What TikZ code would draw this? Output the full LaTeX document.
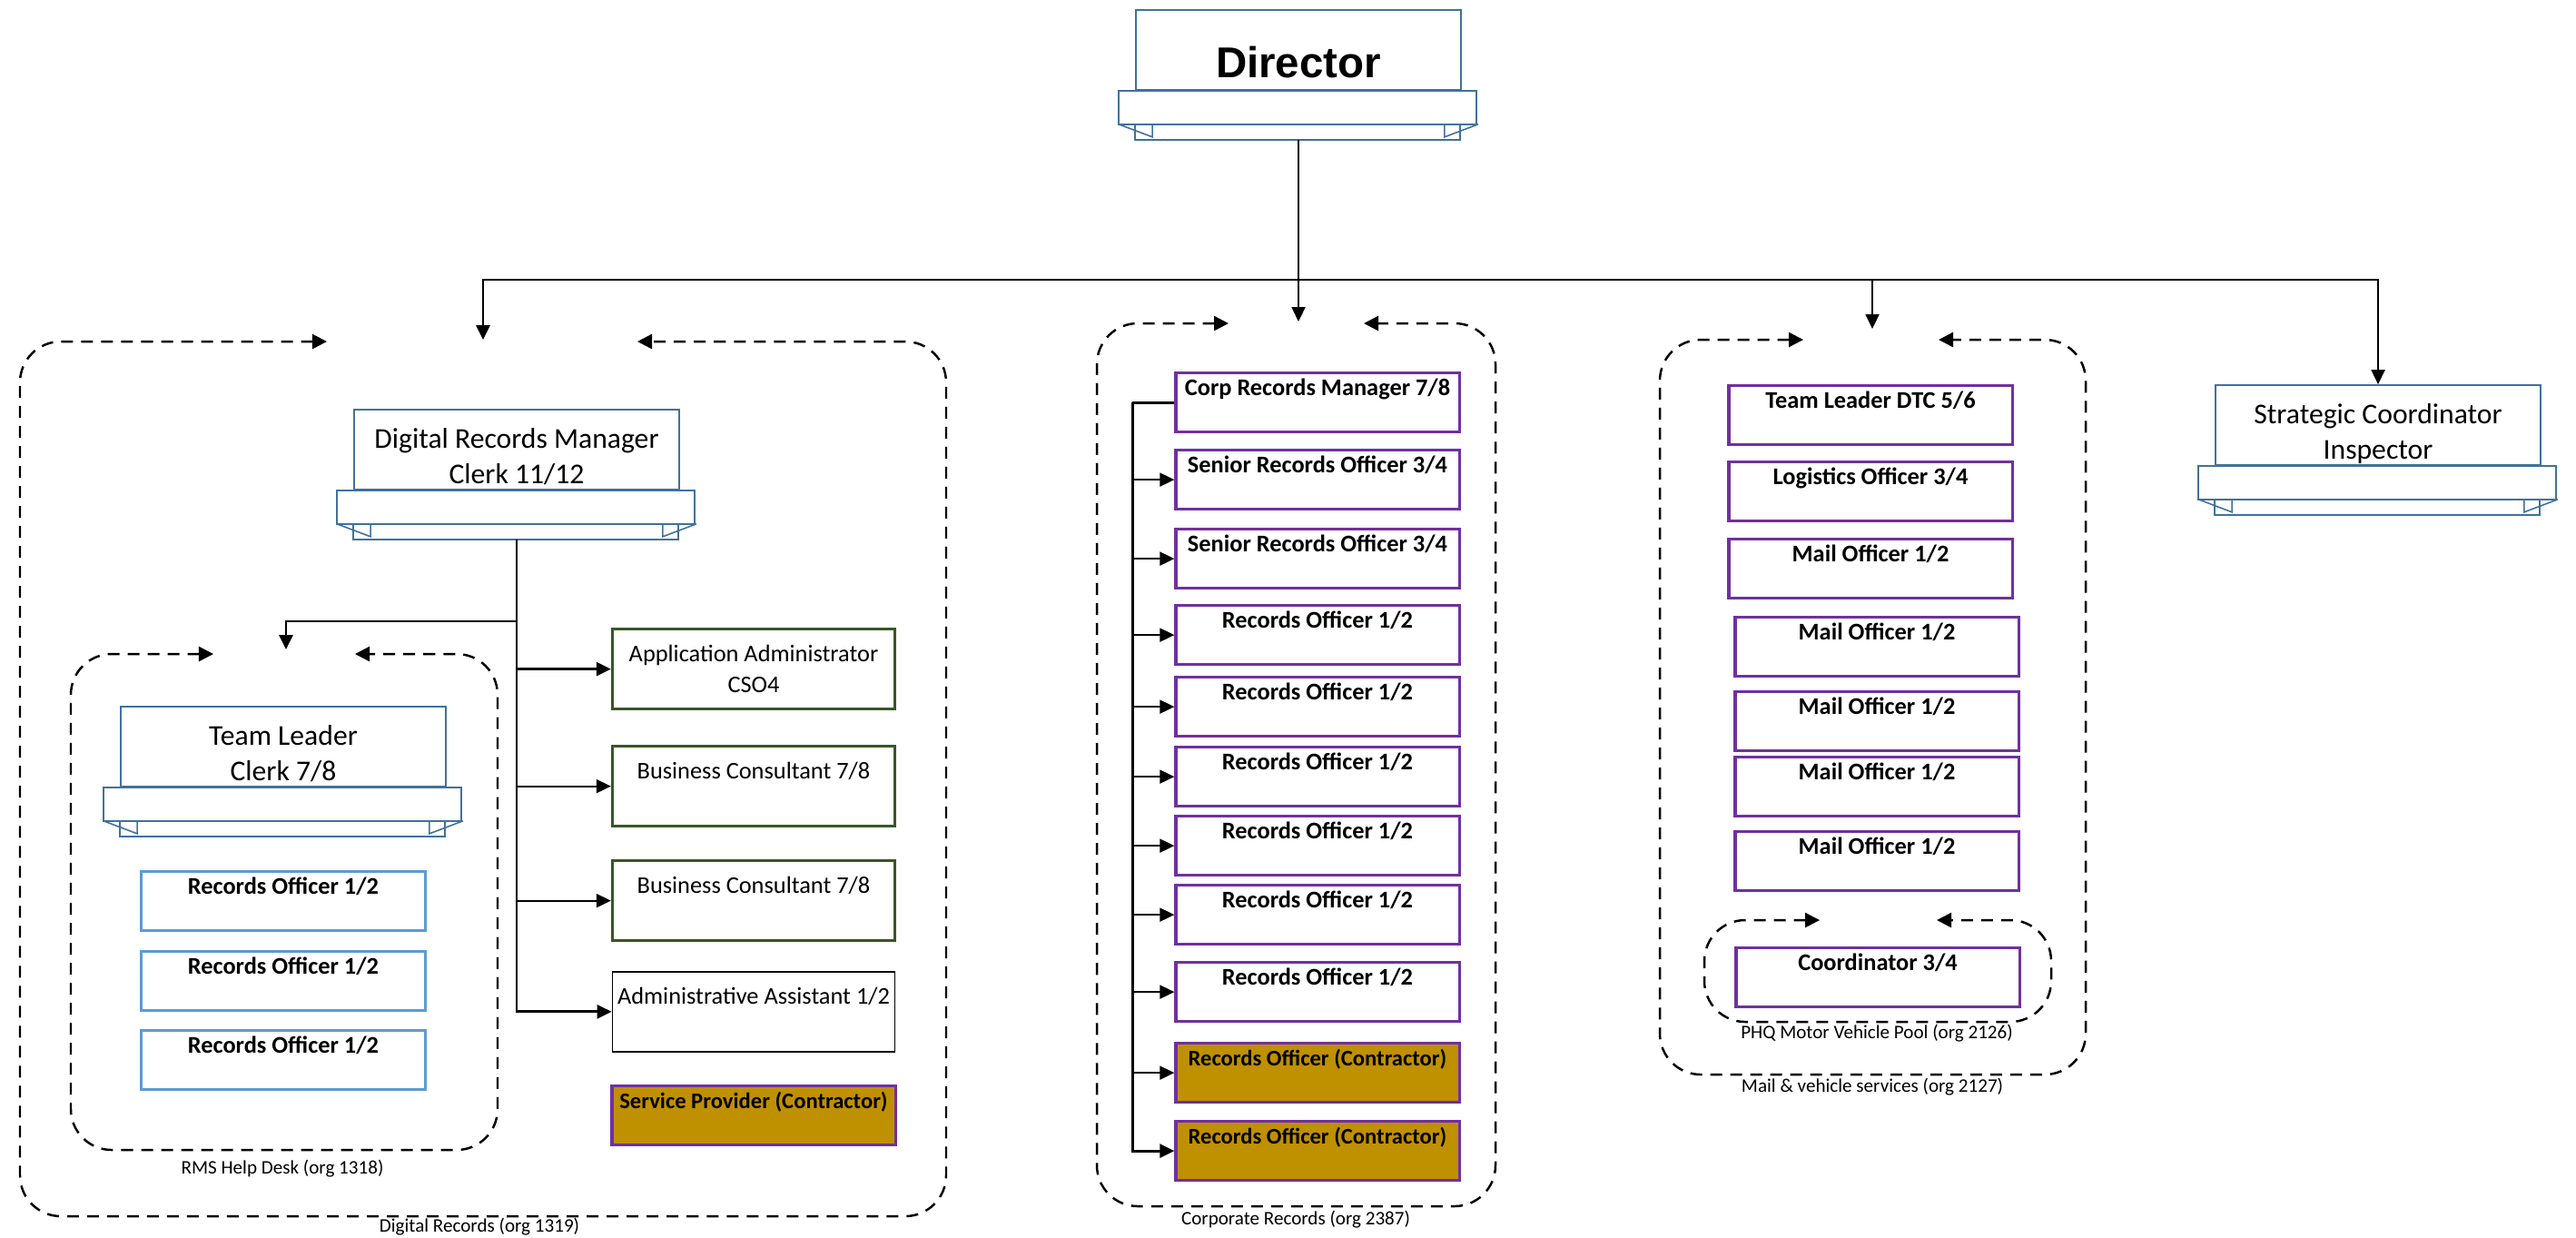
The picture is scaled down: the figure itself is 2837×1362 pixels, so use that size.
\documentclass[tikz,border=0pt]{standalone}
\usepackage{fontspec}
\setmainfont{Carlito}
\newfontfamily\arialfont{Liberation Sans}
\usetikzlibrary{arrows.meta,positioning}

\definecolor{ribblue}{HTML}{41719C}
\definecolor{roblue}{HTML}{5B9BD5}
\definecolor{postgreen}{HTML}{385723}
\definecolor{postpurple}{HTML}{7030A0}
\definecolor{contractgold}{HTML}{BF9000}

\tikzset{
    ribtop/.style={draw=ribblue, line width=0.45pt, fill=white, minimum width=3.58cm,
        minimum height=0.88cm, inner sep=0pt, align=center, text height=0.81cm,
        text depth=0.07cm, font=\fontsize{9}{11}\selectfont},
    ribline/.style={draw=ribblue, line width=0.45pt},
    post/.style={draw=postpurple, line width=0.9pt, fill=white, minimum width=3.12cm,
        minimum height=0.65cm, inner sep=0pt, anchor=north, text height=0.25cm,
        text depth=0.40cm, font=\fontsize{7.5}{9}\selectfont\bfseries},
    contract/.style={post, fill=contractgold, font=\fontsize{7}{9}\selectfont\bfseries},
    ropost/.style={post, draw=roblue},
    gpost/.style={draw=postgreen, line width=0.9pt, minimum width=3.11cm, minimum height=0.88cm,
        inner sep=0pt, anchor=north, align=center, text height=0.36cm, text depth=0.52cm,
        font=\fontsize{7.5}{9.5}\selectfont},
    panel/.style={line width=0.7pt, dash pattern=on 0.13cm off 0.09cm, rounded corners=0.45cm,
        {Triangle[length=0.16cm,width=0.16cm]}-{Triangle[length=0.16cm,width=0.16cm]}},
    orglabel/.style={font=\fontsize{6}{7}\selectfont, inner sep=0pt},
    conn/.style={line width=0.55pt},
    tip/.style={-{Triangle[length=0.16cm,width=0.15cm]}},
}

% ribbon under a title box
\newcommand{\ribbonunder}[1]{%
    \draw[ribline,fill=white] (#1.south west) rectangle ++(358,54);
    \draw[ribline,fill=white] (#1.south west) ++(-18,0) rectangle ++(394,37);
    \draw[ribline] (#1.south west) ++(-18,37) -- ++(37,14) -- ++(0,-14);
    \draw[ribline] (#1.south east) ++(18,37) -- ++(-37,14) -- ++(0,-14);
    \coordinate (#1-foot) at ([yshift=-0.54cm]#1.south);
}

\begin{document}
\begin{tikzpicture}[x=0.01cm, y=-0.01cm]
    \useasboundingbox (0,0) rectangle (2837,1362);

    % Director
    \node[ribtop, font=\arialfont\bfseries\fontsize{13.5}{16}\selectfont,
        text height=0.74cm, text depth=0.14cm] (dir) at (1430,55) {Director};
    \ribbonunder{dir}

    \node[ribtop] (sci) at (2619,468) {Strategic Coordinator\\Inspector};
    \ribbonunder{sci}

    % groups
    \draw[panel] (360,376) -- (22,376) -- (22,1339) -- (1042,1339) -- (1042,376) -- (702,376);
    \draw[panel] (235,720) -- (78,720) -- (78,1266) -- (548,1266) -- (548,720) -- (391,720);
    \draw[panel] (1353,356) -- (1208,356) -- (1208,1328) -- (1647,1328) -- (1647,356) -- (1502,356);
    \draw[panel] (1986,374) -- (1828,374) -- (1828,1183) -- (2297,1183) -- (2297,374) -- (2135,374);
    \draw[panel] (2004,1013) -- (1877,1013) -- (1877,1125) -- (2259,1125) -- (2259,1013) -- (2133,1013);

    \node[orglabel] (drec-lab) at (528,1351) {Digital Records (org 1319)};
    \node[orglabel] (hd-lab) at (311,1287) {RMS Help Desk (org 1318)};
    \node[orglabel] (corp-lab) at (1427,1343) {Corporate Records (org 2387)};
    \node[orglabel] (mail-lab) at (2062,1197) {Mail \& vehicle services (org 2127)};
    \node[orglabel] (phq-lab) at (2067,1138) {PHQ Motor Vehicle Pool (org 2126)};

    % Director to the groups
    \coordinate (bus) at (1430,308);
    \coordinate (drec-in) at (532,374);
    \coordinate (corp-in) at (1430,354);
    \coordinate (mail-in) at (2062,362);
    \draw[conn] (dir-foot) -- (bus);
    \draw[conn, line width=0.8pt, tip] (bus) -| (drec-in);
    \draw[conn, tip] (bus) -| (corp-in);
    \draw[conn, tip] (bus) -| (mail-in);
    \draw[conn, tip] (bus) -| (sci.north);

    % Digital Records
    \node[ribtop] (drm) at (569,495) {Digital Records Manager\\Clerk 11/12};
    \ribbonunder{drm}
    \node[ribtop] (tl) at (312,822) {Team Leader\\Clerk 7/8};
    \ribbonunder{tl}

    \foreach \n/\y in {ro1/958, ro2/1046, ro3/1133}
        \node[ropost] (\n) at (312,\y) {Records Officer 1/2};

    \node[gpost, text height=, text depth=] (app) at (830,691) {Application Administrator\\CSO4};
    \node[gpost] (bc1) at (830,820) {Business Consultant 7/8};
    \node[gpost] (bc2) at (830,946) {Business Consultant 7/8};
    \node[gpost, draw=black, line width=0.45pt] (aa) at (830,1069) {Administrative Assistant 1/2};
    \node[contract] (sp) at (830,1194) {Service Provider (Contractor)};

    \coordinate (hd-in) at (315,715);
    \draw[conn, line width=0.8pt, tip] (drm-foot) |- (aa.west);
    \draw[conn, line width=0.8pt, tip] (drm-foot |- 0,684) -| (hd-in);
    \draw[conn, line width=0.8pt, tip] (drm-foot |- app.west) -- (app.west);
    \foreach \n in {bc1,bc2}
        \draw[conn, tip] (drm-foot |- \n.west) -- (\n.west);

    % Corporate Records
    \node[post] (c1) at (1451,409) {Corp Records Manager 7/8};
    \node[post] (c2) at (1451,494) {Senior Records Officer 3/4};
    \node[post] (c3) at (1451,581) {Senior Records Officer 3/4};
    \foreach \n/\y in {c4/665, c5/744, c6/821, c7/897, c8/973, c9/1058}
        \node[post] (\n) at (1451,\y) {Records Officer 1/2};
    \node[contract] (c10) at (1451,1147) {Records Officer (Contractor)};
    \node[contract] (c11) at (1451,1233) {Records Officer (Contractor)};

    \coordinate (ctrunk) at ([xshift=-0.46cm]c1.west);
    \draw[conn, line width=0.8pt] (c1.west) -- (ctrunk);
    \draw[conn, line width=0.8pt, tip] (ctrunk) |- (c11.west);
    \foreach \n in {c2,c3,c4,c5,c6,c7,c8,c9,c10}
        \draw[conn, tip] (ctrunk |- \n.west) -- (\n.west);

    % Mail & vehicle services
    \node[post] (m1) at (2060,423) {Team Leader DTC 5/6};
    \node[post] (m2) at (2060,507) {Logistics Officer 3/4};
    \node[post] (m3) at (2060,592) {Mail Officer 1/2};
    \foreach \n/\y in {m4/678, m5/760, m6/832, m7/914}
        \node[post] (\n) at (2067,\y) {Mail Officer 1/2};
    \node[post] (coord) at (2068,1042) {Coordinator 3/4};

\end{tikzpicture}
\end{document}
